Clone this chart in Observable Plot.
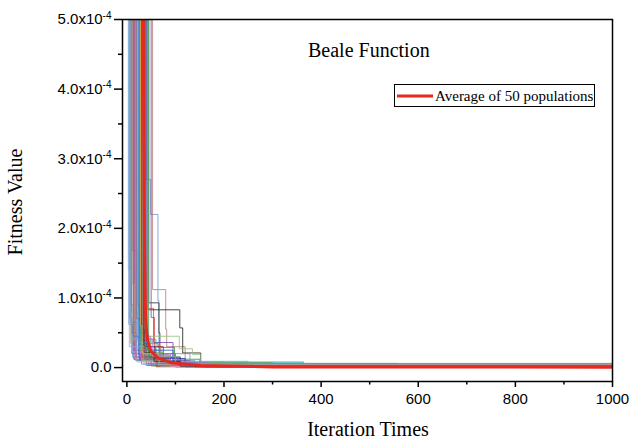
<!DOCTYPE html>
<html><head><meta charset="utf-8">
<script src="https://cdn.jsdelivr.net/npm/d3@7"></script>
<script src="https://cdn.jsdelivr.net/npm/@observablehq/plot@0.6"></script>
<style>body{margin:0;background:#fff} svg{display:block}</style>
</head><body><div id="chart"></div>
<script>
// Tick values (y in units of 1e-4)
const xMajorTicks = [0, 200, 400, 600, 800, 1000];
const xMinorTicks = [100, 300, 500, 700, 900];
const yMajorTicks = [0, 1, 2, 3, 4, 5];
const yMinorTicks = [0.5, 1.5, 2.5, 3.5, 4.5];

// 50 populations: step points [iteration, fitness ×1e-4]; first value is off the top of the chart
const populationSteps = [
  [[0,30],[4,0.62],[12,0.15],[30,0.05],[60,0.01]],
  [[0,30],[6,0.72],[10,0.2],[40,0.03]],
  [[0,30],[8,0.35],[14,0.12],[50,0.02]],
  [[0,30],[12,1.68],[22,0.9],[26,0.1],[80,0.02]],
  [[0,30],[25,0.85],[55,0.72],[57,0.2],[100,0.03]],
  [[0,30],[40,2.7],[49,2.2],[64,0.96],[66,0.1],[140,0.02]],
  [[0,30],[53,1.12],[80,0.55],[82,0.3],[120,0.05],[200,0.01]],
  [[0,30],[43,0.83],[109,0.57],[115,0.21],[152,0.06],[183,0.01]],
  [[0,30],[45,0.93],[66,0.5],[68,0.15],[110,0.03]],
  [[0,30],[50,0.72],[55,0.36],[95,0.1],[130,0.02]],
  [[0,30],[35,0.35],[64,0.29],[98,0.12],[150,0.02]],
  [[0,30],[45,0.45],[108,0.27],[135,0.19],[152,0.08],[200,0.02]],
  [[0,30],[30,0.4],[60,0.08],[364,0.01]],
  [[0,30],[20,0.3],[50,0.06],[557,0.005]],
  [[0,30],[28,0.25],[70,0.07],[364,0.01]],
  [[0,30],[33,0.2],[100,0.07],[300,0.055],[364,0.01]],
  [[0,30],[14,0.25],[28,0.1],[60,0.06],[150,0.01]],
  [[0,30],[18,0.15],[40,0.06],[130,0.02]],
  [[0,30],[22,0.4],[38,0.2],[90,0.04]],
  [[0,30],[30,0.55],[36,0.12],[80,0.03]],
  [[0,30],[36,0.9],[38,0.3],[70,0.05]],
  [[0,30],[10,0.5],[20,0.15],[60,0.02]],
  [[0,30],[16,0.25],[35,0.12],[90,0.03]],
  [[0,30],[24,0.18],[50,0.05],[120,0.01]],
  [[0,30],[27,0.28],[45,0.15],[110,0.03]],
  [[0,30],[32,0.45],[48,0.2],[130,0.04]],
  [[0,30],[20,0.7],[30,0.3],[75,0.05]],
  [[0,30],[15,0.12],[45,0.04],[100,0.01]],
  [[0,30],[38,0.6],[42,0.25],[95,0.06],[160,0.01]],
  [[0,30],[26,0.5],[40,0.18],[85,0.04]],
  [[0,30],[5,0.3],[18,0.1],[70,0.02]],
  [[0,30],[17,0.2],[33,0.12],[90,0.03]],
  [[0,30],[19,0.1],[55,0.04],[180,0.01]],
  [[0,30],[37,0.14],[60,0.05]],
  [[0,30],[9,0.9],[13,0.3],[40,0.06]],
  [[0,30],[11,1.2],[15,0.4],[30,0.1],[80,0.02]],
  [[0,30],[7,0.65],[20,0.2],[70,0.03]],
  [[0,30],[29,0.33],[44,0.22],[75,0.08],[140,0.02]],
  [[0,30],[41,0.3],[58,0.13],[120,0.03]],
  [[0,30],[34,0.42],[52,0.18],[88,0.07],[170,0.01]],
  [[0,30],[23,0.36],[47,0.09],[250,0.02]],
  [[0,30],[21,0.08],[90,0.02]],
  [[0,30],[31,0.16],[62,0.06],[140,0.01]],
  [[0,30],[13,0.45],[25,0.14],[65,0.03]],
  [[0,30],[39,0.25],[46,0.14],[105,0.04]],
  [[0,30],[44,0.12],[78,0.05],[200,0.01]],
  [[0,30],[35,0.22],[56,0.09],[110,0.02]],
  [[0,30],[28,0.6],[31,0.2],[66,0.04]],
  [[0,30],[42,0.38],[54,0.16],[100,0.05],[220,0.01]],
  [[0,30],[3,1.4],[6,0.8],[9,0.3],[35,0.05]]
];
const populationColors = [
  "#5b8fd6","#4a78c0","#a39a52","#e03a2f","#e5483c","#6d94c9","#b47a76","#1a1a1a","#2b2b2b","#7b3fb5",
  "#2e8b3a","#8fbf7a","#2aa6a6","#3cbfd9","#46c2c8","#5fa05a","#d040c0","#f070c0","#9a60e0","#2a3a8a",
  "#f08c30","#8b4a2a","#8a8a30","#4169e1","#1f8f8f","#8a8a8a","#8b1a3a","#9040a0","#3050d0","#3a9a40",
  "#b090e0","#e050b0","#20a0a0","#d83030","#909040","#c0a070","#6a90c0","#50a050","#303090","#a070e0",
  "#40c0d0","#f090d0","#905030","#5070e0","#8050b0","#40a060","#202020","#f0a040","#a0a0a0","#80b0e0"
];

// Average of 50 populations
const averageIter  = [0, 33, 36, 38, 40, 43, 49, 64, 90, 152, 300, 1000];
const averageValue = [60, 5.5, 2, 0.9, 0.55, 0.39, 0.24, 0.14, 0.07, 0.03, 0.01, 0.005];

const lastIter = 1000;
const popRows = populationSteps.flatMap((steps, i) => {
  const rows = steps.map(([iter, value]) => ({pop: i, iter, value}));
  rows.push({pop: i, iter: lastIter, value: steps[steps.length - 1][1]});
  return rows;
});
const avgRows = averageIter.map((iter, i) => ({iter, value: averageValue[i]}));

const chart = Plot.plot({
  width: 630,
  height: 441,
  marginLeft: 122,
  marginRight: 18,
  marginTop: 19,
  marginBottom: 60,
  style: {fontFamily: "'Liberation Sans', Arial, sans-serif", fontSize: "15px", background: "#fff", color: "#000"},
  x: {domain: [-9, 1000], axis: null},
  y: {domain: [-0.2, 5], axis: null},
  marks: [
    Plot.line(popRows, {x: "iter", y: "value", z: "pop", stroke: d => populationColors[d.pop],
      curve: "step-after", strokeWidth: 1, strokeOpacity: 0.8, clip: true}),
    Plot.line(avgRows, {x: "iter", y: "value", stroke: "#e8271f", strokeWidth: 3, clip: true}),
    Plot.frame({stroke: "#000", strokeWidth: 1.5}),
    Plot.axisX(xMajorTicks, {tickSize: 6, tickPadding: 6, strokeWidth: 1.5, fontSize: 15, label: null, tickFormat: d => String(d)}),
    Plot.axisX(xMinorTicks, {tickSize: 3.5, strokeWidth: 1.5, label: null, tickFormat: () => ""}),
    Plot.axisY(yMajorTicks, {tickSize: 8, tickPadding: 3, strokeWidth: 1.5, fontSize: 15, label: null,
      tickFormat: d => d === 0 ? "0.0" : d.toFixed(1) + "x10^-4"}),
    Plot.axisY(yMinorTicks, {tickSize: 4, strokeWidth: 1.5, label: null, tickFormat: () => ""})
  ]
});
document.getElementById("chart").appendChild(chart);

const svg = d3.select(chart);
// superscript exponents
svg.selectAll("text").each(function() {
  const t = this.textContent;
  if (t.includes("^")) {
    const [base, exp] = t.split("^");
    const sel = d3.select(this);
    sel.text(null);
    sel.append("tspan").text(base);
    sel.append("tspan").attr("dy", "-0.55em").attr("font-size", "10px").text(exp);
  }
});

const serif = "'Liberation Serif', 'Times New Roman', serif";
svg.append("text").attr("x", 368).attr("y", 436).attr("text-anchor", "middle")
  .attr("font-family", serif).attr("font-size", 20).attr("fill", "#000").text("Iteration Times");
svg.append("text").attr("transform", "translate(22,202) rotate(-90)").attr("text-anchor", "middle")
  .attr("font-family", serif).attr("font-size", 20).attr("fill", "#000").text("Fitness Value");
svg.append("text").attr("x", 308).attr("y", 57).attr("text-anchor", "start")
  .attr("font-family", serif).attr("font-size", 20).attr("fill", "#000").text("Beale Function");
const lg = svg.append("g");
lg.append("rect").attr("x", 394.5).attr("y", 84.5).attr("width", 200).attr("height", 22)
  .attr("fill", "#fff").attr("stroke", "#000").attr("stroke-width", 1);
lg.append("line").attr("x1", 397).attr("x2", 433).attr("y1", 96).attr("y2", 96)
  .attr("stroke", "#e8271f").attr("stroke-width", 3);
lg.append("text").attr("x", 435).attr("y", 101).attr("text-anchor", "start")
  .attr("font-family", serif).attr("font-size", 15).attr("fill", "#000").text("Average of 50 populations");
</script>
</body></html>
